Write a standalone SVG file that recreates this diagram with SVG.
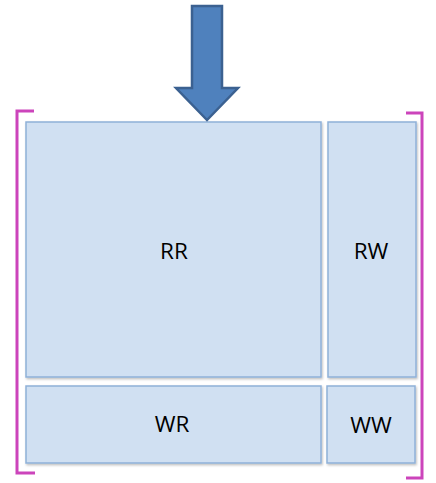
<svg xmlns="http://www.w3.org/2000/svg" width="436" height="483" viewBox="0 0 436 483">
  <defs>
    <filter id="shadow" x="-5%" y="-5%" width="115%" height="115%">
      <feDropShadow dx="1" dy="1.5" stdDeviation="1" flood-color="#000" flood-opacity="0.25"/>
    </filter>
  </defs>
  <style>
    .cell { fill: #d0e0f2; stroke: #8fb1d8; stroke-width: 1.5; filter: url(#shadow); }
    .label { font-family: "Open Sans", "Liberation Sans", sans-serif; font-size: 22.5px; fill: #000; text-anchor: middle; }
    .bracket { fill: none; stroke: #cc44bb; stroke-width: 3; }
    .arrow { fill: #4f81bd; stroke: #3b6191; stroke-width: 2.5; stroke-linejoin: miter; }
  </style>
  <rect width="436" height="483" fill="#fff"/>

  <!-- brackets -->
  <g id="bracket-left">
    <path class="bracket" d="M34 111 H17 V473 H35"/>
  </g>
  <g id="bracket-right">
    <path class="bracket" d="M406 113 H422 V478 H406"/>
  </g>

  <g id="RR">
    <rect class="cell" x="26" y="122" width="295" height="255"/>
    <text class="label" x="174" y="259">RR</text>
  </g>
  <g id="RW">
    <rect class="cell" x="328" y="122" width="88" height="255"/>
    <text class="label" x="371" y="259">RW</text>
  </g>
  <g id="WR">
    <rect class="cell" x="26" y="386" width="295" height="77"/>
    <text class="label" x="172" y="432">WR</text>
  </g>
  <g id="WW">
    <rect class="cell" x="327" y="386" width="88" height="77"/>
    <text class="label" x="371" y="433">WW</text>
  </g>

  <!-- downward arrow -->
  <g id="connectors">
    <path class="arrow" d="M192 6 H222 V88 H238 L207 120 L176 88 H192 Z"/>
  </g>
</svg>
